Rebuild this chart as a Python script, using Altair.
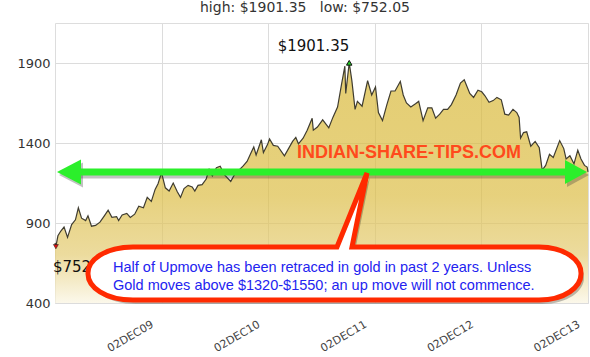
import altair as alt
import pandas as pd

# ---------------- data ----------------
dates = [
    "2008-12-02", "2008-12-05", "2008-12-12", "2008-12-22", "2009-01-02", "2009-01-14", "2009-01-28",
    "2009-02-10", "2009-02-20", "2009-03-03", "2009-03-17", "2009-03-25", "2009-04-06", "2009-04-20",
    "2009-05-05", "2009-05-20", "2009-06-02", "2009-06-15", "2009-07-01", "2009-07-08", "2009-07-20",
    "2009-08-05", "2009-08-17", "2009-09-01", "2009-09-15", "2009-10-01", "2009-10-14", "2009-10-28",
    "2009-11-10", "2009-11-20", "2009-12-02", "2009-12-15", "2009-12-28", "2010-01-11", "2010-01-25",
    "2010-02-05", "2010-02-17", "2010-03-03", "2010-03-17", "2010-03-26", "2010-04-06", "2010-04-20",
    "2010-05-04", "2010-05-14", "2010-05-25", "2010-06-08", "2010-06-21", "2010-07-06", "2010-07-27",
    "2010-08-10", "2010-08-24", "2010-09-07", "2010-09-21", "2010-10-05", "2010-10-14", "2010-10-22",
    "2010-11-09", "2010-11-16", "2010-11-30", "2010-12-07", "2010-12-20", "2011-01-04", "2011-01-27",
    "2011-02-10", "2011-02-24", "2011-03-07", "2011-03-16", "2011-04-01", "2011-04-15", "2011-05-02",
    "2011-05-06", "2011-05-20", "2011-06-07", "2011-06-28", "2011-07-12", "2011-07-28", "2011-08-10",
    "2011-08-22", "2011-08-25", "2011-09-06", "2011-09-15", "2011-09-26", "2011-10-04", "2011-10-20",
    "2011-11-08", "2011-11-22", "2011-12-05", "2011-12-15", "2011-12-29", "2012-01-13", "2012-01-27",
    "2012-02-10", "2012-02-28", "2012-03-09", "2012-03-20", "2012-04-04", "2012-04-20", "2012-05-01",
    "2012-05-16", "2012-06-01", "2012-06-15", "2012-06-28", "2012-07-12", "2012-07-25", "2012-08-08",
    "2012-08-21", "2012-09-06", "2012-09-21", "2012-10-04", "2012-10-23", "2012-11-05", "2012-11-20",
    "2012-12-03", "2012-12-14", "2012-12-28", "2013-01-11", "2013-01-24", "2013-02-08", "2013-02-20",
    "2013-03-05", "2013-03-20", "2013-04-02", "2013-04-10", "2013-04-15", "2013-04-25", "2013-05-06",
    "2013-05-20", "2013-06-04", "2013-06-18", "2013-06-28", "2013-07-10", "2013-07-23", "2013-08-05",
    "2013-08-27", "2013-09-10", "2013-09-18", "2013-10-01", "2013-10-15", "2013-10-28", "2013-11-08",
    "2013-11-20", "2013-11-29", "2013-12-02",
]
prices = [
    775, 752.05, 820, 850, 875, 810, 890,
    920, 995, 930, 915, 945, 880, 885,
    905, 945, 980, 935, 940, 915, 950,
    960, 935, 955, 1005, 995, 1060, 1035,
    1110, 1145, 1215, 1120, 1100, 1150, 1095,
    1060, 1115, 1135, 1125, 1100, 1135, 1140,
    1175, 1235, 1195, 1245, 1255, 1200, 1160,
    1205, 1230, 1255, 1285, 1340, 1375, 1325,
    1420, 1340, 1390, 1425, 1385, 1380, 1320,
    1365, 1410, 1435, 1395, 1430, 1480, 1555,
    1480, 1500, 1545, 1495, 1560, 1625, 1760,
    1880, 1710, 1901.35, 1790, 1610, 1660, 1630,
    1790, 1700, 1750, 1590, 1540, 1640, 1725,
    1725, 1785, 1700, 1650, 1625, 1645, 1660,
    1540, 1620, 1620, 1555, 1580, 1610, 1610,
    1640, 1700, 1775, 1795, 1710, 1685, 1730,
    1720, 1695, 1655, 1665, 1685, 1670, 1580,
    1575, 1610, 1590, 1560, 1430, 1465, 1470,
    1380, 1410, 1370, 1230, 1260, 1330, 1310,
    1415, 1365, 1300, 1320, 1270, 1355, 1300,
    1260, 1250, 1220,
]
tick_dates = ["2009-12-02", "2010-12-02", "2011-12-02", "2012-12-02", "2013-12-02"]
tick_labels = ["02DEC09", "02DEC10", "02DEC11", "02DEC12", "02DEC13"]
y_ticks = [400, 900, 1400, 1900]
y_domain = [400, 2150]
site_text = ["INDIAN-SHARE-TIPS.COM"]
note_lines = [
    "Half of Upmove has been retraced in gold in past 2 years. Unless",
    "Gold moves above $1320-$1550; an up move will not commence.",
]

df = pd.DataFrame({"date": pd.to_datetime(dates), "price": prices})
ticks_df = pd.DataFrame({"date": pd.to_datetime(tick_dates), "label": tick_labels})
peak = df.loc[[df["price"].idxmax()]].assign(label=lambda d: d["price"].map(lambda v: f"${v:.2f}"))
low = df.loc[[df["price"].idxmin()]].assign(label=lambda d: d["price"].map(lambda v: f"${v:.2f}"))
NB = "\u00a0"
title_str = f"high:{NB}${df['price'].max():.2f}{NB*3}low:{NB}${df['price'].min():.2f}"

one = pd.DataFrame({"k": [0]})

x_dom = [alt.DateTime(year=2008, month=12, date=2), alt.DateTime(year=2013, month=12, date=2)]
x_vals = [alt.DateTime(year=y, month=12, date=2) for y in range(2009, 2014)]

x_axis = alt.Axis(
    values=x_vals, labels=False, title=None, tickSize=0, domain=False, gridColor="#dcdcdc",
)
x_enc = alt.X("date:T", scale=alt.Scale(domain=x_dom), axis=x_axis)
y_enc = alt.Y(
    "price:Q",
    scale=alt.Scale(domain=y_domain, nice=False, zero=False),
    axis=alt.Axis(
        values=y_ticks, format="d", title=None, tickSize=0, domain=False, labelPadding=5,
        labelFont="DejaVu Sans", labelFontSize=13, labelColor="#333", gridColor="#dcdcdc",
    ),
)

grad = alt.Gradient(
    gradient="linear",
    stops=[
        alt.GradientStop(color="#d8b836", offset=0),
        alt.GradientStop(color="#dcbd45", offset=0.55),
        alt.GradientStop(color="#e4cc74", offset=0.8),
        alt.GradientStop(color="#faf5e2", offset=1),
    ],
    x1=1, x2=1, y1=0, y2=1,
)

area = alt.Chart(df).mark_area(
    color=grad, line={"color": "#3f3c30", "strokeWidth": 1.2}
).encode(x=x_enc, y=y_enc, y2=alt.datum(400))

x_lbls = alt.Chart(ticks_df).mark_text(
    align="right", baseline="middle", angle=330, dx=-10, font="DejaVu Sans", fontSize=11, color="#444"
).encode(x=x_enc, y=alt.value(296), text="label:N")

peak_pt = alt.Chart(peak).mark_point(
    shape="triangle-up", filled=True, fill="#22cc22", stroke="#111", strokeWidth=1, size=30, opacity=1
).encode(x=x_enc, y=y_enc)
low_pt = alt.Chart(low).mark_point(
    shape="triangle-down", filled=True, fill="#dd1111", stroke="#111", strokeWidth=0.5, size=25, opacity=1
).encode(x=x_enc, y=y_enc)
peak_lbl = alt.Chart(peak).mark_text(
    align="right", baseline="middle", dx=0, dy=-17, font="DejaVu Sans", fontSize=15, color="#111"
).encode(x=x_enc, y=y_enc, text="label:N")
low_lbl = alt.Chart(low).mark_text(
    align="left", baseline="middle", dx=-3, dy=20, font="DejaVu Sans", fontSize=15, color="#111"
).encode(x=x_enc, y=y_enc, text="label:N")

title_txt = alt.Chart(one).mark_text(
    align="center", baseline="middle", font="DejaVu Sans", fontSize=14, color="#333", text=title_str
).encode(x=alt.value(250), y=alt.value(-15))

# arrow
AY = 149
arrow_shadow = alt.Chart(one).mark_rule(color="#333", strokeWidth=7, opacity=0.3).encode(
    x=alt.value(24), x2=alt.value(512), y=alt.value(AY + 3))
arrow = alt.Chart(one).mark_rule(color="#2bef2b", strokeWidth=7).encode(
    x=alt.value(22), x2=alt.value(512), y=alt.value(AY))
lhead_path = "M0,0L24,-12.5L24,12.5Z"
rhead_path = "M0,0L-22,-12L-22,12Z"
lhead_sh = alt.Chart(one).mark_point(shape=lhead_path, size=4, filled=True, fill="#333", opacity=0.3, strokeWidth=0).encode(
    x=alt.value(4), y=alt.value(AY + 3))
lhead = alt.Chart(one).mark_point(shape=lhead_path, size=4, filled=True, fill="#2bef2b", opacity=1, strokeWidth=0).encode(
    x=alt.value(2), y=alt.value(AY))
rhead_sh = alt.Chart(one).mark_point(shape=rhead_path, size=4, filled=True, fill="#333", opacity=0.3, strokeWidth=0).encode(
    x=alt.value(534), y=alt.value(AY + 3))
rhead = alt.Chart(one).mark_point(shape=rhead_path, size=4, filled=True, fill="#2bef2b", opacity=1, strokeWidth=0).encode(
    x=alt.value(532), y=alt.value(AY))

site = alt.Chart(pd.DataFrame({"t": site_text})).mark_text(
    align="center", baseline="middle", font="Liberation Sans", fontSize=18, fontWeight="bold", color="#ff4a1c"
).encode(x=alt.value(354), y=alt.value(130), text="t:N")

# callout bubble
bubble_path = (
    "M78,224L282,224L312,150L297,224L484,224"
    "C510,224 526,237 526,250L526,251C526,264 510,277 484,277"
    "L78,277C50,277 33,264 33,251L33,250C33,237 50,224 78,224Z"
)
bubble_sh = alt.Chart(one).mark_point(shape=bubble_path, size=4, filled=True, fill="#000", opacity=0.25, strokeWidth=0).encode(
    x=alt.value(3), y=alt.value(4))
bubble = alt.Chart(one).mark_point(
    shape=bubble_path, size=4, filled=True, fill="white", stroke="#ff2a00", strokeWidth=5, opacity=1, strokeOpacity=1
).encode(x=alt.value(0), y=alt.value(0))

note1 = alt.Chart(pd.DataFrame({"t": [note_lines[0]]})).mark_text(
    align="left", baseline="middle", font="Liberation Sans", fontSize=14.5, color="#2323f0"
).encode(x=alt.value(58), y=alt.value(245), text="t:N")
note2 = alt.Chart(pd.DataFrame({"t": [note_lines[1]]})).mark_text(
    align="left", baseline="middle", font="Liberation Sans", fontSize=14.5, color="#2323f0"
).encode(x=alt.value(58), y=alt.value(263), text="t:N")

chart = alt.layer(
    area, x_lbls, peak_pt, low_pt, peak_lbl, low_lbl, title_txt,
    arrow_shadow, lhead_sh, rhead_sh, arrow, lhead, rhead, site,
    bubble_sh, bubble, note1, note2,
).properties(
    width=533, height=280,
    autosize=alt.AutoSizeParams(type="none"),
    padding={"left": 55, "top": 23, "right": 2, "bottom": 54},
).configure_view(stroke="#999", strokeWidth=1).configure(background="white")

chart.save("out.html", embed_options={"renderer": "svg", "actions": False})
